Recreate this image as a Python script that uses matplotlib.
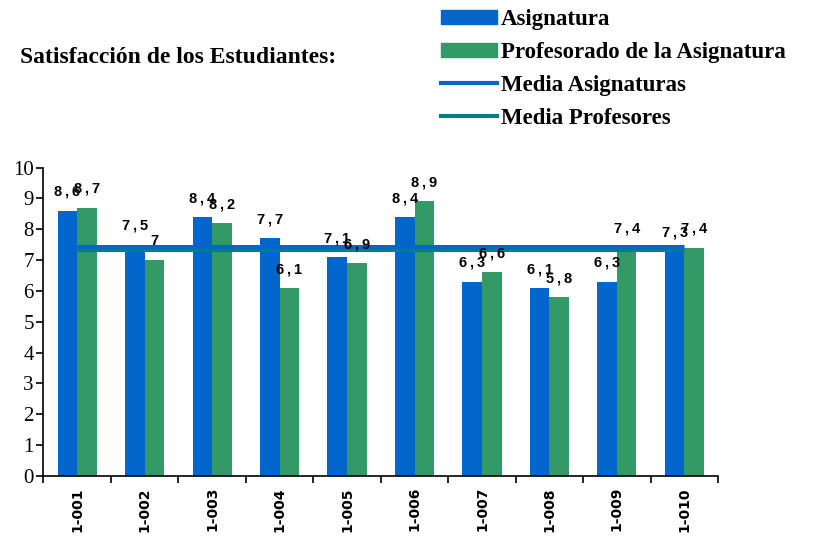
import matplotlib
matplotlib.use("Agg")
import matplotlib.pyplot as plt
import numpy as np
from matplotlib.patches import Patch
from matplotlib.lines import Line2D

categories = ["1-001", "1-002", "1-003", "1-004", "1-005",
              "1-006", "1-007", "1-008", "1-009", "1-010"]
asignatura = [8.6, 7.5, 8.4, 7.7, 7.1, 8.4, 6.3, 6.1, 6.3, 7.3]
profesorado = [8.7, 7.0, 8.2, 6.1, 6.9, 8.9, 6.6, 5.8, 7.4, 7.4]
media_asignaturas = 7.44
media_profesores = 7.32
yticks = [0, 1, 2, 3, 4, 5, 6, 7, 8, 9, 10]

blue = "#0066CC"
green = "#339966"
teal = "#008080"

fig = plt.figure(figsize=(8.16, 5.37), dpi=100)
ax = fig.add_axes([0.0533, 0.1136, 0.8267, 0.5744])

x = np.arange(len(categories))
w = 0.29
ax.bar(x - w / 2, asignatura, width=w, color=blue, zorder=2)
ax.bar(x + w / 2, profesorado, width=w, color=green, zorder=2)

ax.plot([x[0], x[-1]], [media_asignaturas] * 2, color=blue, lw=3.6, zorder=3,
        solid_capstyle="butt")
ax.plot([x[0], x[-1]], [media_profesores] * 2, color=teal, lw=2.2, zorder=4,
        solid_capstyle="butt")

def fmt(v):
    s = f"{v:.1f}"
    if s.endswith(".0"):
        return s[:-2]
    a, b = s.split(".")
    return a + "\u2009,\u2009" + b

lab_font = dict(family="Liberation Sans", weight="bold", fontsize=10.5)
for xi, v in zip(x, asignatura):
    ax.annotate(fmt(v), (xi - w / 2, v), xytext=(0, 13.5),
                textcoords="offset points", ha="center", va="center",
                zorder=5, **lab_font)
for xi, v in zip(x, profesorado):
    ax.annotate(fmt(v), (xi + w / 2, v), xytext=(0, 13.5),
                textcoords="offset points", ha="center", va="center",
                zorder=5, **lab_font)

ax.set_xlim(-0.5, len(categories) - 0.5)
ax.set_ylim(0, 10)
ax.set_yticks(yticks)
ax.set_yticklabels([str(t) for t in yticks], family="Liberation Serif",
                   fontsize=15)
ax.tick_params(axis="y", direction="out", length=5, width=1.2, pad=2)

ax.set_xticks(np.arange(-0.5, len(categories), 1.0))
ax.set_xticklabels([])
ax.tick_params(axis="x", which="major", direction="out", length=5, width=1.2)
ax.set_xticks(x, minor=True)
ax.set_xticklabels(categories, minor=True, rotation=90,
                   family="DejaVu Sans", weight="bold", fontsize=10)
ax.tick_params(axis="x", which="minor", length=0, pad=8)

for s in ["top", "right"]:
    ax.spines[s].set_visible(False)
for s in ["left", "bottom"]:
    ax.spines[s].set_linewidth(1.2)

fig.text(20 / 816, 1 - 57 / 537, "Satisfacción de los Estudiantes:",
         family="Liberation Serif", weight="bold", fontsize=17,
         ha="left", va="center")

handles = [Patch(color=blue), Patch(color=green),
           Line2D([], [], color=blue, lw=3),
           Line2D([], [], color=teal, lw=3)]
labels = ["Asignatura", "Profesorado de la Asignatura",
          "Media Asignaturas", "Media Profesores"]
fig.legend(handles, labels, loc="upper left",
           bbox_to_anchor=(432 / 816, 1 - 0 / 537), frameon=False,
           prop=dict(family="Liberation Serif", weight="bold", size=16.5),
           handlelength=2.45, handleheight=0.55, handletextpad=0.17,
           labelspacing=0.52, borderaxespad=0)

fig.savefig("out.png", dpi=100)
